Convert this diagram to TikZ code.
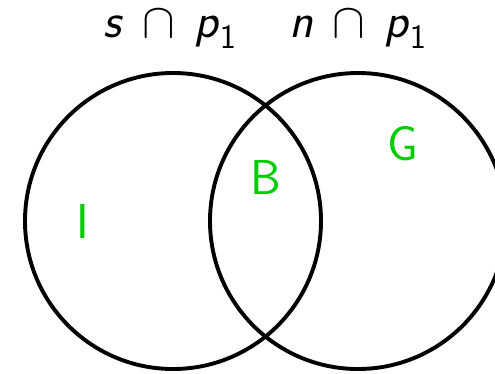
\RequirePackage{fix-cm}
\documentclass[tikz,border=0pt]{standalone}
\usepackage{tikz}
\definecolor{setgreen}{RGB}{0,204,0}
\newcommand{\sv}[1]{\mbox{\textsf{\textit{#1}}}}

\begin{document}
\begin{tikzpicture}[x=1pt,y=-1pt,line width=3.9pt,
  every node/.style={inner sep=0pt,font=\fontsize{49}{58}\selectfont\sffamily}]
  \useasboundingbox (0,0) rectangle (495,373);
  \draw (173,221) circle [radius=148pt];
  \draw (358,221) circle [radius=148pt];
  \node[anchor=base] (titleS) at (170,37) {$\sv{s}\,\cap\,\sv{p}_{\mathsf{1}}$};
  \node[anchor=base] (titleN) at (358,37) {$\sv{n}\,\cap\,\sv{p}_{\mathsf{1}}$};
  \node[setgreen] (regI) at (83,221) {I};
  \node[setgreen] (regB) at (266,177) {B};
  \node[setgreen] (regG) at (403,144) {G};
\end{tikzpicture}
\end{document}
